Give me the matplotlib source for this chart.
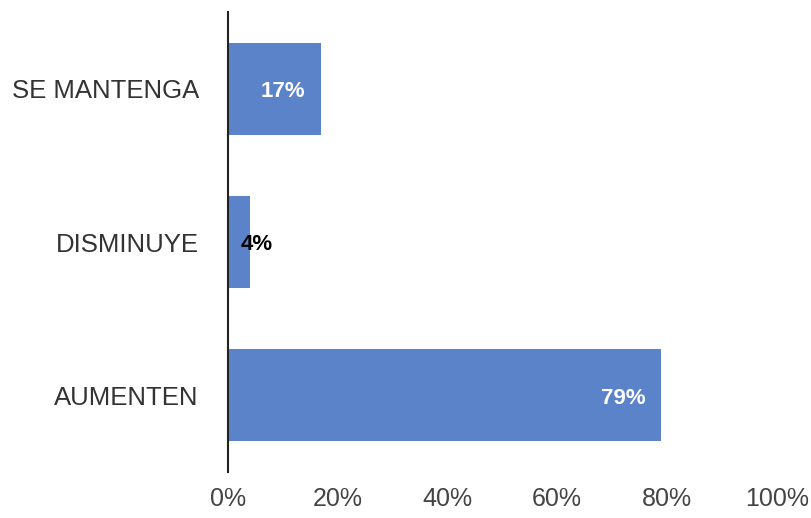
import matplotlib.pyplot as plt
from matplotlib.ticker import PercentFormatter

plt.rcParams['font.family'] = ['Liberation Sans', 'DejaVu Sans']

categorias = ["AUMENTEN", "DISMINUYE", "SE MANTENGA"]
valores = [0.79, 0.04, 0.17]
etiquetas = ["79%", "4%", "17%"]
dentro = [True, False, True]

fig = plt.figure(figsize=(8.12, 5.18), dpi=100)
ax = fig.add_axes([0.2808, 0.0888, 0.6757, 0.8880])

pos = range(len(categorias))
ax.barh(pos, valores, height=0.6, color="#5b83c9")

for y, v, t, d in zip(pos, valores, etiquetas, dentro):
    if d:
        ax.annotate(t, (v, y), xytext=(-11.5, -2), textcoords="offset points",
                    ha="right", va="center", color="white", fontsize=16, fontweight="bold")
    else:
        ax.annotate(t, (v, y), xytext=(-6.5, -2), textcoords="offset points",
                    ha="left", va="center", color="black", fontsize=16, fontweight="bold")

ax.set_xlim(0, 1)
ax.set_ylim(-0.5, 2.5)
ax.set_yticks(list(pos))
ax.set_yticklabels(categorias, fontsize=18.5, color="#333333")
ax.set_xticks([0, 0.2, 0.4, 0.6, 0.8, 1.0])
ax.xaxis.set_major_formatter(PercentFormatter(1.0, decimals=0))
ax.tick_params(axis="x", length=0, pad=11, labelsize=18, labelcolor="#444444")
ax.tick_params(axis="y", length=0, pad=21)

for s in ["top", "right", "bottom"]:
    ax.spines[s].set_visible(False)
ax.spines["left"].set_color("#222222")
ax.spines["left"].set_linewidth(1.5)

plt.savefig("out.png", dpi=100)
